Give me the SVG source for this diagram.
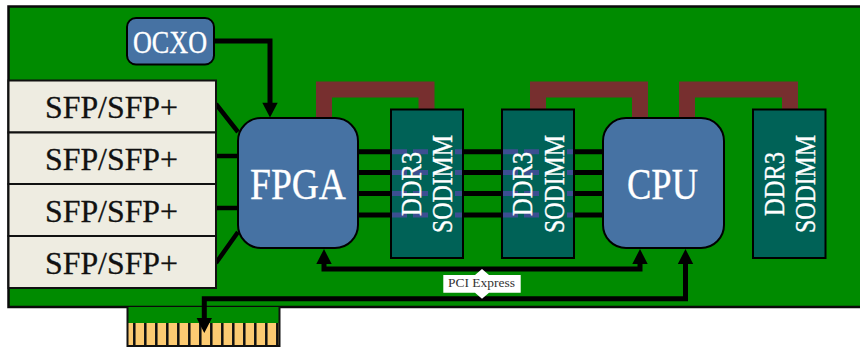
<svg xmlns="http://www.w3.org/2000/svg" width="860" height="349" viewBox="0 0 860 349">
<defs>
<style>
text{font-family:"Liberation Serif","Times New Roman",serif}
.chip{fill:#4672a3;stroke:#000;stroke-width:2}
.ddr{fill:#006257;stroke:#000;stroke-width:2}
.sfp{fill:#eeece1;stroke:#111;stroke-width:2}
.w{fill:#fff;stroke:#fff;stroke-width:.35}
.s{fill:#111;stroke:#111;stroke-width:.3;font-size:32px}
.wire{fill:none;stroke:#000;stroke-linejoin:miter}
.brown{fill:none;stroke:#772f2f;stroke-width:16}
.ov{stroke:#3c4f92;stroke-width:5}
.finger{stroke:#111;stroke-width:2.5}
</style>
</defs>
<rect width="860" height="349" fill="#fff"/>
<g id="board"><rect x="8.5" y="6.5" width="860" height="300.5" fill="#008b00" stroke="#0a0a0a" stroke-width="2.5"/></g>
<g id="edge-connector">
<rect x="127.5" y="307" width="152" height="16" fill="#008b00"/>
<rect x="127.5" y="323" width="152" height="23" fill="#fdcb72"/>
<path class="finger" d="M134.3 323V346M145.3 323V346M156.3 323V346M167.3 323V346M178.3 323V346M189.3 323V346M200.3 323V346M211.3 323V346M222.3 323V346M233.3 323V346M244.3 323V346M255.3 323V346M266.3 323V346M277.3 323V346"/>
<path d="M127.5 307V346H279.5V307" fill="none" stroke="#111" stroke-width="2"/>
</g>
<g id="connectors">
<path class="brown" d="M324 118V89.5H426.5V109"/>
<path class="brown" d="M538 109V89.5H640V118"/>
<path class="brown" d="M687 118V89.5H790V109"/>
<path class="wire" stroke-width="4.5" d="M216 104L238 132M216 156H238M216 208H238M216 263L238 232"/>
<path class="wire" stroke-width="5" d="M358 151.7H603M358 172.5H603M358 193.5H603M358 215H603"/>
<path class="wire" stroke-width="5" d="M214 41H270V103"/>
<path d="M262.3 102.7H277.7L270 117.5Z"/>
<path class="wire" stroke-width="5" d="M324 264V269H640V264"/>
<path d="M316.3 264H331.7L324 249Z M632.3 264H647.7L640 249Z"/>
<path class="wire" stroke-width="5" d="M685.5 264V298.7H204.3V319"/>
<path d="M677.8 264H693.2L685.5 249Z M196.6 318H212L204.3 333Z"/>
</g>
<g id="ocxo"><rect class="chip" x="127" y="18" width="87" height="46.5" rx="9"/><text class="w" x="133" y="52.7" font-size="32" textLength="74" lengthAdjust="spacingAndGlyphs">OCXO</text></g>
<g id="sfp1"><rect class="sfp" x="8.5" y="80.5" width="207.5" height="52"/><text class="s" x="45" y="118" textLength="133" lengthAdjust="spacingAndGlyphs">SFP/SFP+</text></g>
<g id="sfp2"><rect class="sfp" x="8.5" y="132.5" width="207.5" height="51.5"/><text class="s" x="45" y="170" textLength="133" lengthAdjust="spacingAndGlyphs">SFP/SFP+</text></g>
<g id="sfp3"><rect class="sfp" x="8.5" y="184" width="207.5" height="52"/><text class="s" x="45" y="221.5" textLength="133" lengthAdjust="spacingAndGlyphs">SFP/SFP+</text></g>
<g id="sfp4"><rect class="sfp" x="8.5" y="236" width="207.5" height="52"/><text class="s" x="45" y="273.5" textLength="133" lengthAdjust="spacingAndGlyphs">SFP/SFP+</text></g>
<g id="fpga"><rect class="chip" x="238" y="118" width="120" height="130" rx="23"/><text class="w" x="250" y="199" font-size="45" textLength="96" lengthAdjust="spacingAndGlyphs">FPGA</text></g>
<g id="cpu"><rect class="chip" x="603" y="118" width="121" height="130" rx="23"/><text class="w" x="627" y="199" font-size="45" textLength="71" lengthAdjust="spacingAndGlyphs">CPU</text></g>
<g id="ddr1"><rect class="ddr" x="391" y="109.5" width="72" height="148.5"/>
<path class="ov" d="M392 151.7H407M413 151.7H428M455 151.7H462M392 172.5H407M413 172.5H428M455 172.5H462M392 193.5H407M413 193.5H428M455 193.5H462M392 215H407M413 215H428M455 215H462"/>
<text class="w" transform="translate(420.7 216) rotate(-90)" font-size="29" textLength="64" lengthAdjust="spacingAndGlyphs">DDR3</text>
<text class="w" transform="translate(451.7 233) rotate(-90)" font-size="29" textLength="98" lengthAdjust="spacingAndGlyphs">SODIMM</text></g>
<g id="ddr2"><rect class="ddr" x="502" y="109.5" width="72" height="148.5"/>
<path class="ov" d="M503 151.7H518M524 151.7H539M567 151.7H573M503 172.5H518M524 172.5H539M567 172.5H573M503 193.5H518M524 193.5H539M567 193.5H573M503 215H518M524 215H539M567 215H573"/>
<text class="w" transform="translate(532 216) rotate(-90)" font-size="29" textLength="64" lengthAdjust="spacingAndGlyphs">DDR3</text>
<text class="w" transform="translate(564 233) rotate(-90)" font-size="29" textLength="98" lengthAdjust="spacingAndGlyphs">SODIMM</text></g>
<g id="ddr3"><rect class="ddr" x="753" y="109.5" width="72.5" height="148.5"/>
<text class="w" transform="translate(783.5 216) rotate(-90)" font-size="29" textLength="64" lengthAdjust="spacingAndGlyphs">DDR3</text>
<text class="w" transform="translate(815 233) rotate(-90)" font-size="29" textLength="98" lengthAdjust="spacingAndGlyphs">SODIMM</text></g>
<g id="pci-label"><path fill="#fff" d="M482 269L489 275H520.7V292.7H489L482 298.7L475 292.7H443.3V275H475Z"/><text x="448" y="286.7" font-size="12.5" fill="#333" textLength="67" lengthAdjust="spacingAndGlyphs">PCI Express</text></g>
</svg>
